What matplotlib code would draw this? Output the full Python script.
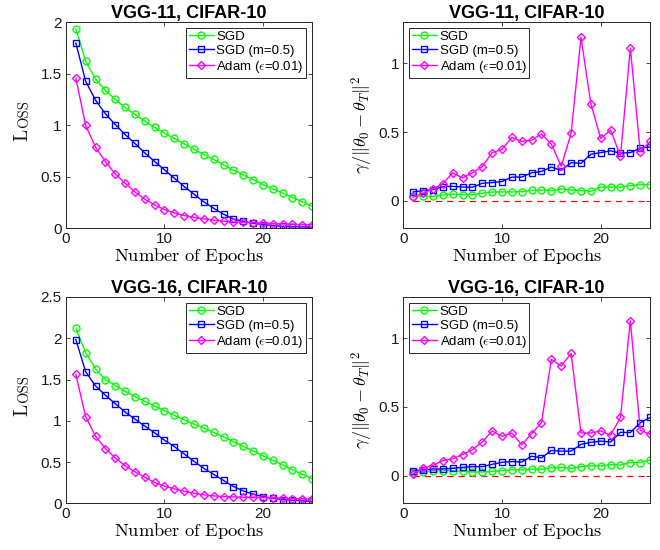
import matplotlib
matplotlib.use("Agg")
import matplotlib.pyplot as plt
import numpy as np

plt.rcParams["font.family"] = ["Liberation Sans", "DejaVu Sans"]
plt.rcParams["mathtext.fontset"] = "cm"

epochs = np.arange(1, 26)

# VGG-11 loss
vgg11_sgd_loss = [1.935, 1.618, 1.447, 1.337, 1.249, 1.171, 1.104, 1.039, 0.977, 0.922,
                  0.871, 0.819, 0.764, 0.715, 0.667, 0.615, 0.563, 0.518, 0.472, 0.424,
                  0.382, 0.340, 0.298, 0.256, 0.214]
vgg11_mom_loss = [1.796, 1.424, 1.243, 1.110, 1.006, 0.909, 0.822, 0.731, 0.647, 0.566,
                  0.485, 0.405, 0.330, 0.256, 0.194, 0.136, 0.090, 0.068, 0.049, 0.036,
                  0.026, 0.019, 0.016, 0.013, 0.010]
vgg11_adam_loss = [1.456, 0.997, 0.786, 0.647, 0.527, 0.437, 0.353, 0.282, 0.227, 0.181,
                   0.149, 0.123, 0.107, 0.091, 0.078, 0.068, 0.061, 0.058, 0.055, 0.049,
                   0.045, 0.042, 0.039, 0.036, 0.036]

# VGG-11 gamma ratio
vgg11_sgd_gam = [0.037, 0.032, 0.032, 0.042, 0.049, 0.044, 0.044, 0.054, 0.064, 0.064,
                 0.064, 0.066, 0.076, 0.078, 0.074, 0.086, 0.078, 0.074, 0.069, 0.100,
                 0.100, 0.098, 0.110, 0.118, 0.115]
vgg11_mom_gam = [0.064, 0.074, 0.081, 0.103, 0.105, 0.100, 0.098, 0.127, 0.132, 0.140,
                 0.172, 0.172, 0.203, 0.213, 0.245, 0.220, 0.277, 0.272, 0.338, 0.350,
                 0.363, 0.346, 0.350, 0.382, 0.392]
vgg11_adam_gam = [0.025, 0.054, 0.086, 0.123, 0.203, 0.167, 0.203, 0.248, 0.350, 0.373,
                  0.461, 0.431, 0.441, 0.485, 0.412, 0.250, 0.490, 1.189, 0.706, 0.453,
                  0.515, 0.324, 1.110, 0.358, 0.431]

# VGG-16 loss
vgg16_sgd_loss = [2.122, 1.821, 1.630, 1.500, 1.427, 1.358, 1.293, 1.236, 1.179, 1.122,
                  1.065, 1.012, 0.959, 0.911, 0.858, 0.805, 0.748, 0.691, 0.634, 0.577,
                  0.520, 0.463, 0.407, 0.350, 0.297]
vgg16_mom_loss = [1.984, 1.593, 1.423, 1.309, 1.207, 1.106, 1.020, 0.935, 0.854, 0.764,
                  0.687, 0.598, 0.508, 0.423, 0.350, 0.276, 0.203, 0.150, 0.110, 0.081,
                  0.061, 0.045, 0.037, 0.028, 0.024]
vgg16_adam_loss = [1.561, 1.049, 0.813, 0.663, 0.549, 0.455, 0.382, 0.317, 0.252, 0.207,
                   0.175, 0.146, 0.122, 0.102, 0.089, 0.081, 0.077, 0.073, 0.073, 0.069,
                   0.065, 0.061, 0.057, 0.053, 0.053]

# VGG-16 gamma ratio
vgg16_sgd_gam = [0.025, 0.025, 0.037, 0.037, 0.037, 0.032, 0.027, 0.027, 0.032, 0.037,
                 0.044, 0.042, 0.049, 0.047, 0.059, 0.061, 0.054, 0.066, 0.074, 0.071,
                 0.081, 0.078, 0.096, 0.096, 0.115]
vgg16_mom_gam = [0.037, 0.042, 0.049, 0.049, 0.054, 0.061, 0.066, 0.066, 0.083, 0.098,
                 0.103, 0.100, 0.142, 0.130, 0.184, 0.179, 0.179, 0.228, 0.243, 0.252,
                 0.245, 0.316, 0.314, 0.385, 0.424]
vgg16_adam_gam = [0.012, 0.056, 0.074, 0.110, 0.123, 0.154, 0.189, 0.245, 0.326, 0.287,
                  0.311, 0.225, 0.306, 0.387, 0.846, 0.797, 0.890, 0.311, 0.311, 0.326,
                  0.294, 0.424, 1.127, 0.331, 0.301]

labels = ["SGD", "SGD (m=0.5)", r"Adam ($\epsilon$=0.01)"]
colors = ["#00ff00", "#0000ff", "#ff00ff"]
markers = ["o", "s", "D"]
msizes = [5, 4.5, 4.5]

fig = plt.figure(figsize=(6.6, 5.5), dpi=100)
renderer = fig.canvas.get_renderer()
positions = [
    [0.100, 0.585, 0.373, 0.375],
    [0.611, 0.585, 0.374, 0.375],
    [0.100, 0.085, 0.373, 0.375],
    [0.611, 0.085, 0.374, 0.375],
]
panels = [
    ("VGG-11, CIFAR-10", [vgg11_sgd_loss, vgg11_mom_loss, vgg11_adam_loss], "loss", 2.0),
    ("VGG-11, CIFAR-10", [vgg11_sgd_gam, vgg11_mom_gam, vgg11_adam_gam], "gam", None),
    ("VGG-16, CIFAR-10", [vgg16_sgd_loss, vgg16_mom_loss, vgg16_adam_loss], "loss", 2.5),
    ("VGG-16, CIFAR-10", [vgg16_sgd_gam, vgg16_mom_gam, vgg16_adam_gam], "gam", None),
]


def smallcaps_ylabel(ax, x, big, small, big_size=14, small_size=10.5):
    # "Loss" in small caps: big first letter, smaller capitals after it
    kw = dict(transform=ax.transAxes, rotation=90, rotation_mode="anchor",
              ha="left", va="baseline", family="cmr10", color="#1a1a1a")
    t1 = ax.text(x, 0.5, big, fontsize=big_size, **kw)
    t2 = ax.text(x, 0.5, small, fontsize=small_size, **kw)
    h1 = t1.get_window_extent(renderer).height
    h2 = t2.get_window_extent(renderer).height
    ax_h = ax.get_window_extent(renderer).height
    y0 = 0.52 - (h1 + h2) / 2 / ax_h
    t1.set_y(y0)
    t2.set_y(y0 + (h1 + 0.5) / ax_h)


edge = "#262626"
for pos, (title, series, kind, ymax) in zip(positions, panels):
    ax = fig.add_axes(pos)
    if kind == "gam":
        ax.plot([1, 25], [0, 0], color="#ff0000", ls=(0, (5, 4)), lw=0.9)
    handles = []
    for vals, lab, c, m, ms in zip(series, labels, colors, markers, msizes):
        h, = ax.plot(epochs, vals, color=c, marker=m, markersize=ms, mfc="none",
                     mec=c, mew=1.0, lw=1.0, label=lab)
        handles.append(h)
    ax.set_xlim(0, 25)
    ax.set_xticks([0, 10, 20])
    if kind == "loss":
        ax.set_ylim(0, ymax)
        ticks = np.arange(0, ymax + 0.01, 0.5)
        ax.set_yticks(ticks)
        ax.set_yticklabels([f"{v:g}" for v in ticks])
        smallcaps_ylabel(ax, -0.155, "L", "OSS")
        leg_loc = "upper right"
    else:
        ax.set_ylim(-0.2, 1.3)
        ax.set_yticks([0, 0.5, 1])
        ax.set_yticklabels(["0", "0.5", "1"])
        ax.set_ylabel(r"$\gamma/\|\theta_0-\theta_T\|^2$", fontsize=13, labelpad=2)
        leg_loc = "upper left"
    ax.set_xlabel(r"$\mathrm{Number\ of\ Epochs}$", fontsize=13.3, labelpad=0)
    ax.set_title(title, fontsize=13, fontweight="bold", pad=3)
    ax.tick_params(direction="in", length=3, width=0.6, labelsize=11,
                   top=True, right=True, colors=edge, labelcolor="#1a1a1a", pad=3)
    for sp in ax.spines.values():
        sp.set_color(edge)
        sp.set_linewidth(0.7)
    leg = ax.legend(handles=handles, loc=leg_loc, fontsize=9.5, frameon=True, fancybox=False,
                    edgecolor=edge, framealpha=1, borderpad=0.2, handlelength=1.9,
                    handletextpad=0.2, labelspacing=0.15, borderaxespad=0.45)
    leg.get_frame().set_linewidth(0.7)

fig.savefig("out.png", dpi=100)
